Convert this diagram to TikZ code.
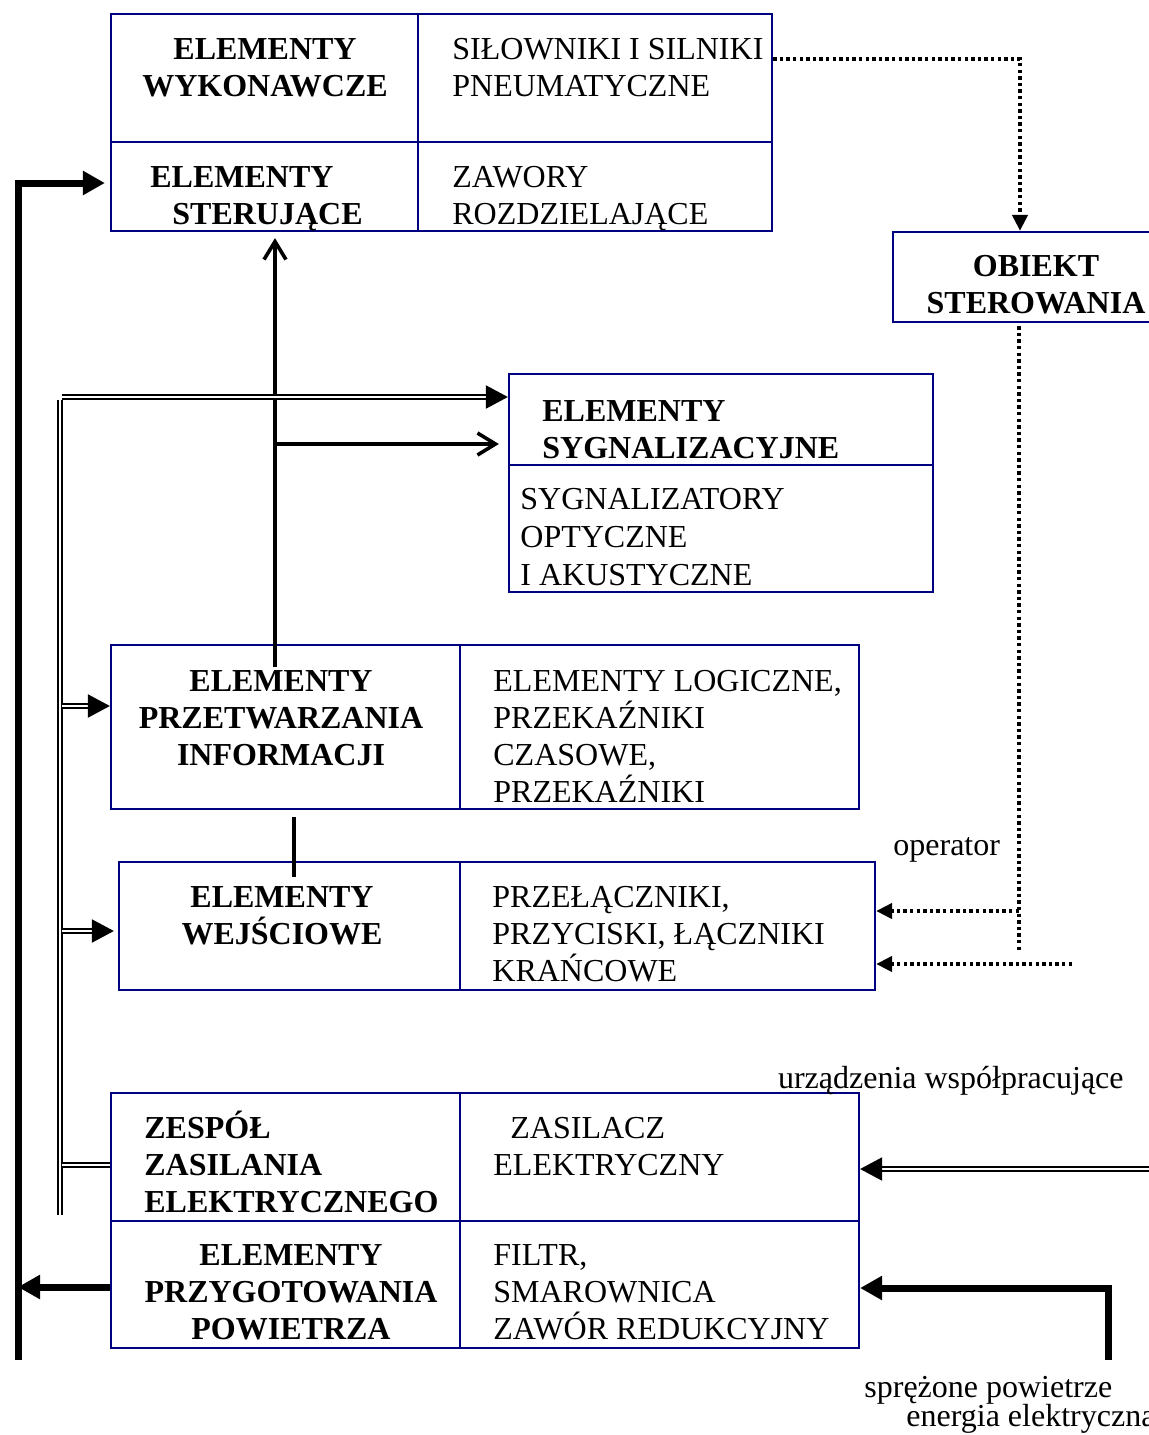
\documentclass[tikz,border=0pt]{standalone}
\usepackage{fontspec}
\setmainfont{Liberation Serif}
\usetikzlibrary{arrows.meta,fit}
\definecolor{framenavy}{RGB}{0,0,128}
\begin{document}
\begin{tikzpicture}[x=0.5pt,y=-0.5pt,
  box/.style={draw=framenavy, line width=1.1pt, inner sep=0pt},
  divider/.style={draw=framenavy, line width=1.1pt},
  txt/.style={inner sep=0pt, align=left, font=\fontsize{16}{18.5}\selectfont},
  txtc/.style={txt, align=center},
  hd/.style={inner sep=0pt, align=left, font=\fontsize{16}{18.5}\selectfont\bfseries},
  hdc/.style={hd, align=center},
  thickarrow/.style={line width=3.5pt, -{Triangle[length=11pt,width=11.5pt]}},
  thickline/.style={line width=3.5pt},
  openarrow/.style={line width=1.8pt, -{Straight Barb[length=9pt,width=11pt]}},
  plainline/.style={line width=1.8pt},
  bus/.style={double, line width=1pt, double distance=1.2pt},
  busarrow/.style={bus, -{Triangle[length=11pt,width=11.5pt]}},
  dotline/.style={line width=2pt, dash pattern=on 1.7pt off 1.6pt},
  dotarrow/.style={dotline, -{Triangle[length=8pt,width=7.5pt]}},
]
\fill[white] (0,0) rectangle (1149,1435);
\useasboundingbox (0,0) rectangle (1149,1435);
\clip (0,0) rectangle (1149,1435);

% ---- blocks ----
\node[box, fit={(111,14) (772,231)}] (top) {};
\draw[divider] (111,142) -- (772,142);
\draw[divider] (418,14) -- (418,231);

\node[box, fit={(893,232) (1160,322)}] (obj) {};

\node[box, fit={(509,374) (933,592)}] (sig) {};
\draw[divider] (509,465) -- (933,465);

\node[box, fit={(111,645) (859,809)}] (proc) {};
\draw[divider] (460,645) -- (460,809);

\node[box, fit={(119,862) (875,990)}] (inp) {};
\draw[divider] (460,862) -- (460,990);

\node[box, fit={(111,1093) (859,1348)}] (pow) {};
\draw[divider] (111,1221) -- (859,1221);
\draw[divider] (460,1093) -- (460,1348);

% ---- block texts (placed by the baseline of their last line) ----
\node[hdc, anchor=base] (t1) at (265,96) {ELEMENTY\\WYKONAWCZE};
\node[txt, anchor=base west] (t2) at (452,96) {SIŁOWNIKI I SILNIKI\\PNEUMATYCZNE};
\node[hd, anchor=base west] (t3) at (150,224) {ELEMENTY\\\hspace*{11pt}STERUJĄCE};
\node[txt, anchor=base west] (t4) at (452,224) {ZAWORY\\ROZDZIELAJĄCE};

\node[hdc, anchor=base] (t5) at (1036,313) {OBIEKT\\STEROWANIA};

\node[hd, anchor=base west] (t6) at (542,458) {ELEMENTY\\SYGNALIZACYJNE};
\node[txt, anchor=base west, font=\fontsize{16}{19}\selectfont] (t7) at (520,585) {SYGNALIZATORY\\OPTYCZNE\\I AKUSTYCZNE};

\node[hdc, anchor=base] (t8) at (281,765) {ELEMENTY\\PRZETWARZANIA\\INFORMACJI};
\node[txt, anchor=base west] (t9) at (493,802) {ELEMENTY LOGICZNE,\\PRZEKAŹNIKI\\CZASOWE,\\PRZEKAŹNIKI};

\node[hdc, anchor=base] (t10) at (282,944) {ELEMENTY\\WEJŚCIOWE};
\node[txt, anchor=base west] (t11) at (492,981) {PRZEŁĄCZNIKI,\\PRZYCISKI, ŁĄCZNIKI\\KRAŃCOWE};

\node[hd, anchor=base west] (t12) at (144,1212) {ZESPÓŁ\\ZASILANIA\\ELEKTRYCZNEGO};
\node[hdc, anchor=base] (t13) at (291,1339) {ELEMENTY\\PRZYGOTOWANIA\\POWIETRZA};
\node[txt, anchor=base west] (t14) at (493,1175) {\hspace*{8.5pt}ZASILACZ\\ELEKTRYCZNY};
\node[txt, anchor=base west] (t15) at (493,1339) {FILTR,\\SMAROWNICA\\ZAWÓR REDUKCYJNY};

% ---- free labels ----
\node[txt, anchor=base west] (lop) at (893,855) {operator};
\node[txt, anchor=base east] (lur) at (1124,1088) {urządzenia współpracujące};
\node[txt, anchor=base west] (lsp) at (864,1397) {sprężone powietrze};
\node[txt, anchor=base west] (len) at (906,1426) {energia elektryczna};

% ---- control object loop (dotted) ----
\coordinate (dA) at (1020,59);
\draw[dotarrow] (top.east |- dA) -- (dA) -- (dA |- obj.north);
\coordinate (dB) at (1019,950);
\draw[dotline] (obj.south -| dB) ++(0,3) -- (dB);
\coordinate (dC) at (1019,911);
\draw[dotarrow] (dC) -- (dC -| inp.east);
\coordinate (dD) at (1072,964);
\draw[dotarrow] (dD) -- (dD -| inp.east);

% ---- signal path from information processing ----
\coordinate (V0) at (275,667);
\draw[openarrow, shorten >=3pt] (V0) -- (V0 |- top.south);
\coordinate (V1) at (275,444);
\draw[openarrow, shorten >=4.5pt] (V1) -- (V1 -| sig.west);
\coordinate (S0) at (294,817);
\coordinate (S1) at (294,877);
\draw[plainline] (S0) -- (S1);

% ---- pneumatic supply (thick) ----
\coordinate (L0) at (18,1360);
\coordinate (L1) at (18,183);
\draw[thickarrow, shorten >=2.5pt] (L0) -- (L1) -- (L1 -| top.west);
\coordinate (L2) at (18,1287);
\draw[thickarrow] (L2 -| pow.west) -- (L2);
\coordinate (R1) at (1108,1360);
\coordinate (R2) at (1108,1288);
\draw[thickarrow] (R1) -- (R2) -- (R2 -| pow.east);

% ---- electric supply bus (double) ----
\coordinate (B0) at (60,400);
\coordinate (B1) at (60,1215);
\draw[bus] (B0) -- (B1);
\coordinate (B2) at (62,397);
\draw[busarrow] (B2) -- (B2 -| sig.west);
\coordinate (B3) at (62,706);
\draw[busarrow] (B3) -- (B3 -| proc.west);
\coordinate (B4) at (62,931);
\draw[busarrow, shorten >=2pt] (B4) -- (B4 -| inp.west);
\coordinate (B5) at (62,1165);
\draw[bus] (B5) -- (B5 -| pow.west);
\coordinate (R0) at (1160,1169);
\draw[busarrow] (R0) -- (R0 -| pow.east);
\end{tikzpicture}
\end{document}
